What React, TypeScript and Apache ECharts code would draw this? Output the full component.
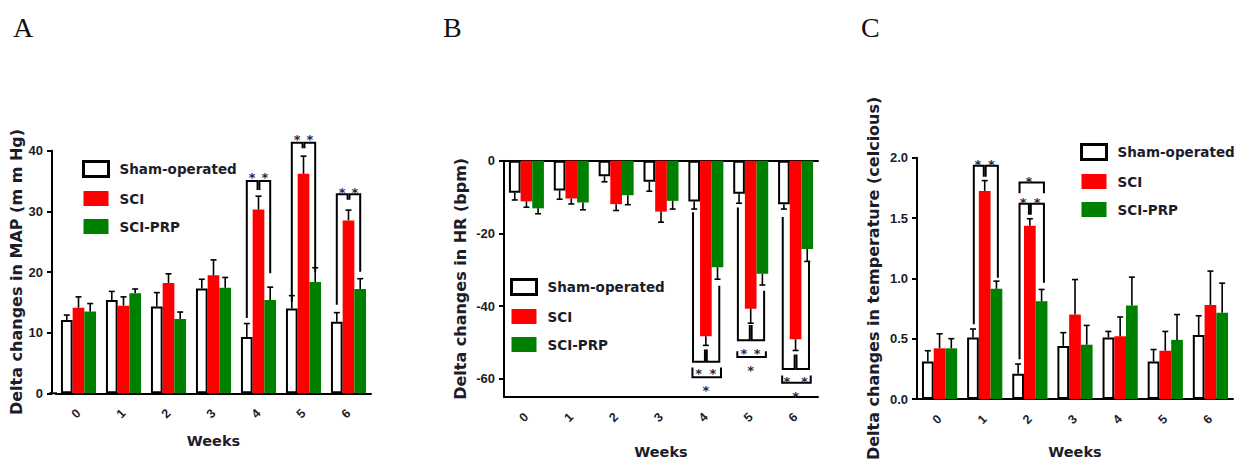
import React, { useEffect, useRef } from "react";
import * as echarts from "echarts";

// ---------- data ----------
const weeks = ["0", "1", "2", "3", "4", "5", "6"];
const seriesNames = ["Sham-operated", "SCI", "SCI-PRP"];

// Panel A: Delta changes in MAP (mmHg)
const mapSham = [12.1, 15.4, 14.3, 17.3, 9.3, 14.0, 11.8];
const mapShamErr = [0.8, 1.4, 2.3, 1.5, 2.2, 2.1, 1.5];
const mapSci = [14.1, 14.45, 18.2, 19.45, 30.3, 36.2, 28.5];
const mapSciErr = [1.8, 1.45, 1.5, 2.55, 2.2, 2.9, 1.7];
const mapPrp = [13.5, 16.5, 12.25, 17.4, 15.4, 18.35, 17.2];
const mapPrpErr = [1.3, 0.7, 1.15, 1.7, 2.1, 2.35, 1.7];

// Panel B: Delta changes in HR (bpm)
const hrSham = [-8.8, -8.2, -4.3, -5.8, -11.2, -9.1, -11.95];
const hrShamErr = [2.0, 2.4, 1.5, 2.6, 2.1, 2.6, 1.35];
const hrSci = [-11.2, -10.4, -11.95, -14.0, -48.3, -40.7, -49.1];
const hrSciErr = [1.6, 1.5, 1.75, 2.9, 2.5, 4.0, 3.1];
const hrPrp = [-13.1, -11.5, -9.5, -11.05, -29.3, -31.1, -24.3];
const hrPrpErr = [1.5, 2.0, 2.6, 2.25, 3.3, 3.1, 3.4];

// Panel C: Delta changes in temperature
const tSham = [0.31, 0.51, 0.21, 0.44, 0.51, 0.31, 0.53];
const tShamErr = [0.09, 0.07, 0.08, 0.11, 0.05, 0.1, 0.16];
const tSci = [0.42, 1.725, 1.436, 0.7, 0.52, 0.4, 0.78];
const tSciErr = [0.12, 0.085, 0.058, 0.29, 0.16, 0.16, 0.28];
const tPrp = [0.42, 0.913, 0.81, 0.45, 0.776, 0.49, 0.715];
const tPrpErr = [0.08, 0.064, 0.098, 0.16, 0.234, 0.21, 0.245];

// tick labels
const mapTicks = [0, 10, 20, 30, 40];
const hrTicks = [0, -20, -40, -60];
const tTicks = [0, 0.5, 1.0, 1.5, 2.0];

// significance brackets: [week, fromOffset, toOffset, lineLevel, fromEnd, toEnd]
const bracketsA = [
  [4, -1, -0.08, 35.0, 12.4, 33.5], [4, 0.08, 1, 35.0, 33.5, 19.8],
  [5, -1, -0.08, 41.3, 15.1, 40.4], [5, 0.08, 1, 41.3, 40.4, 20.05],
  [6, -1, -0.08, 32.8, 14.6, 31.9], [6, 0.08, 1, 32.8, 31.9, 20.05],
];
const starsA = [
  [4, -0.55, 36.0], [4, 0.55, 36.0],
  [5, -0.55, 42.3], [5, 0.55, 42.3],
  [6, -0.55, 33.6], [6, 0.55, 33.6],
];
const bracketsB = [
  [4, -1.1, -0.08, -55.3, -14.2, -51.9], [4, 0.08, 1.15, -55.3, -51.9, -34.4],
  [5, -1.1, -0.08, -49.4, -12.85, -45.2], [5, 0.08, 1.15, -49.4, -45.2, -35.75],
  [6, -1.1, -0.08, -57.3, -15.5, -53.3], [6, 0.08, 1.15, -57.3, -53.3, -27.7],
  [4, -1.15, 1.3, -59.6, -56.9, -56.9],
  [5, -1.15, 1.3, -54.0, -52.4, -52.4],
  [6, -1.15, 1.3, -61.1, -59.1, -59.1],
];
const starsB = [
  [4, -0.62, -57.8], [4, 0.6, -57.8], [4, 0, -62.3],
  [5, -0.59, -52.1], [5, 0.55, -52.1], [5, 0, -57.0],
  [6, -0.75, -59.8], [6, 0.76, -59.8], [6, 0, -64.0],
];
const bracketsC = [
  [1, -0.93, -0.08, 1.934, 0.619, 1.843], [1, 0.08, 1.12, 1.934, 1.843, 1.004],
  [2, -0.88, -0.08, 1.618, 0.33, 1.527], [2, 0.08, 1.2, 1.618, 1.527, 0.963],
  [2, -0.88, 1.2, 1.794, 1.706, 1.706],
];
const starsC = [
  [1, -0.59, 1.967], [1, 0.56, 1.967],
  [2, -0.57, 1.655], [2, 0.63, 1.655],
  [2, -0.08, 1.83],
];

// ---------- styles ----------
const BAR_FRAC = 0.26;
const TXT = "#1c1c2a";
const SANS = "DejaVu Sans";
const ARIAL = "Liberation Sans";
const STAR = "#26264a";

function errRender(_p: any, api: any) {
  const c = api.value(0), v = api.value(1), e = api.value(2), off = api.value(3);
  const p0 = api.coord([c, v]);
  const p1 = api.coord([c, e]);
  const bw = api.size([1, 0])[0] * BAR_FRAC;
  const x = p0[0] + off * bw;
  const st = { stroke: "#000", lineWidth: 1.6 };
  return {
    type: "group",
    children: [
      { type: "line", shape: { x1: x, y1: p0[1], x2: x, y2: p1[1] }, style: st },
      { type: "line", shape: { x1: x - 3, y1: p1[1], x2: x + 3, y2: p1[1] }, style: st },
    ],
  };
}

function bracketRender(_p: any, api: any) {
  const c = api.value(0), xa = api.value(1), xb = api.value(2);
  const yl = api.value(3), ya = api.value(4), yb = api.value(5);
  const base = api.coord([c, yl]);
  const bw = api.size([1, 0])[0] * BAR_FRAC;
  const xA = base[0] + xa * bw;
  const xB = base[0] + xb * bw;
  const pa = api.coord([c, ya])[1];
  const pb = api.coord([c, yb])[1];
  return {
    type: "polyline",
    shape: { points: [[xA, pa], [xA, base[1]], [xB, base[1]], [xB, pb]] },
    style: { stroke: "#000", lineWidth: 2, fill: null },
  };
}

function starRender(_p: any, api: any) {
  const c = api.value(0), xo = api.value(1), y = api.value(2);
  const p = api.coord([c, y]);
  const bw = api.size([1, 0])[0] * BAR_FRAC;
  return {
    type: "text",
    x: p[0] + xo * bw,
    y: p[1] + 3,
    style: {
      text: "*",
      fill: STAR,
      fontSize: 13,
      fontWeight: "bold",
      fontFamily: SANS,
      align: "center",
      verticalAlign: "middle",
    },
  };
}

function errData(vals: number[][], errs: number[][], sign: number) {
  const out: number[][] = [];
  vals.forEach((arr, k) => {
    arr.forEach((v, i) => out.push([i, v, v + sign * errs[k][i], k - 1]));
  });
  return out;
}

function panelSeries(
  xi: number,
  yi: number,
  vals: number[][],
  errs: number[][],
  sign: number,
  brackets: number[][],
  stars: number[][]
) {
  const colors = [
    { color: "#ffffff", borderColor: "#000", borderWidth: 2 },
    { color: "#ff0000" },
    { color: "#008000" },
  ];
  const bars = vals.map((arr, k) => ({
    type: "bar",
    name: seriesNames[k],
    xAxisIndex: xi,
    yAxisIndex: yi,
    data: arr,
    barWidth: BAR_FRAC * 100 + "%",
    barGap: "0%",
    itemStyle: colors[k],
    z: 2,
  }));
  return [
    ...bars,
    {
      type: "custom",
      xAxisIndex: xi,
      yAxisIndex: yi,
      renderItem: errRender,
      data: errData(vals, errs, sign),
      clip: false,
      z: 3,
      silent: true,
    },
    {
      type: "custom",
      xAxisIndex: xi,
      yAxisIndex: yi,
      renderItem: bracketRender,
      encode: { x: 0, y: 3 },
      data: brackets,
      clip: false,
      z: 4,
      silent: true,
    },
    {
      type: "custom",
      xAxisIndex: xi,
      yAxisIndex: yi,
      renderItem: starRender,
      encode: { x: 0, y: 2 },
      data: stars,
      clip: false,
      z: 5,
      silent: true,
    },
  ];
}

const axisLineStyle = { color: "#000", width: 2 };

function xAxisFor(g: number, nameGap: number) {
  return {
    type: "category",
    gridIndex: g,
    data: weeks,
    position: "bottom",
    axisLine: { onZero: false, lineStyle: axisLineStyle },
    axisTick: { alignWithLabel: true, length: 6, lineStyle: axisLineStyle },
    axisLabel: {
      rotate: 45,
      margin: 18,
      fontSize: 12.5,
      fontWeight: "bold",
      fontFamily: ARIAL,
      color: TXT,
    },
    name: "Weeks",
    nameLocation: "middle",
    nameGap,
    nameTextStyle: { fontSize: 14.5, fontWeight: "bold", fontFamily: SANS, color: TXT },
    splitLine: { show: false },
  };
}

const yLabel = { margin: 9, fontSize: 13, fontWeight: "bold", fontFamily: ARIAL, color: TXT };

function yAxisFor(g: number, name: string, nameGap: number, extra: any) {
  return {
    type: "value",
    gridIndex: g,
    splitLine: { show: false },
    axisLine: { show: true, lineStyle: axisLineStyle },
    axisTick: { show: true, length: 5, lineStyle: axisLineStyle },
    axisLabel: yLabel,
    name,
    nameLocation: "middle",
    nameGap,
    nameTextStyle: { fontSize: 16, fontWeight: "bold", fontFamily: SANS, color: TXT },
    ...extra,
  };
}

function legendFor(left: number, top: number) {
  return {
    orient: "vertical",
    left,
    top,
    padding: 0,
    itemWidth: 25,
    itemHeight: 15,
    itemGap: 13,
    icon: "rect",
    selectedMode: false,
    textStyle: {
      fontSize: 13.5,
      fontWeight: "bold",
      fontFamily: SANS,
      color: TXT,
      padding: [0, 0, 0, 6],
    },
    data: [
      { name: seriesNames[0], itemStyle: { color: "#fff", borderColor: "#000", borderWidth: 3 } },
      { name: seriesNames[1] },
      { name: seriesNames[2] },
    ],
  };
}

export default function App() {
  const ref = useRef<HTMLDivElement>(null);
  useEffect(() => {
    if (!ref.current) return;
    const chart = echarts.init(ref.current, null, { renderer: "svg" });
    const option: any = {
      animation: false,
      backgroundColor: "#ffffff",
      grid: [
        { left: 56, top: 150.7, width: 315, height: 242.6 },
        { left: 504, top: 160.7, width: 314, height: 241 },
        { left: 917, top: 157.7, width: 316, height: 242.3 },
      ],
      xAxis: [
        xAxisFor(0, 40),
        xAxisFor(1, 47),
        xAxisFor(2, 45),
        {
          type: "category",
          gridIndex: 1,
          data: weeks,
          position: "top",
          axisLine: { show: true, onZero: false, lineStyle: axisLineStyle },
          axisTick: { show: false },
          axisLabel: { show: false },
          splitLine: { show: false },
        },
      ],
      yAxis: [
        yAxisFor(0, "Delta changes in MAP (m m Hg)", 22, {
          min: 0,
          max: 40,
          interval: 10,
          offset: 4,
          axisLabel: { ...yLabel, customValues: mapTicks },
          axisTick: { show: true, length: 5, lineStyle: axisLineStyle, customValues: mapTicks },
        }),
        yAxisFor(1, "Delta changes in HR (bpm)", 36, {
          min: -65,
          max: 0,
          axisLabel: { ...yLabel, customValues: hrTicks },
          axisTick: { show: true, length: 5, lineStyle: axisLineStyle, customValues: hrTicks },
        }),
        yAxisFor(2, "Delta changes in temperature (celcious)", 36, {
          min: 0,
          max: 2,
          interval: 0.5,
          axisLabel: {
            ...yLabel,
            customValues: tTicks,
            formatter: (v: number) => v.toFixed(1),
          },
          axisTick: { show: true, length: 5, lineStyle: axisLineStyle, customValues: tTicks },
        }),
      ],
      legend: [legendFor(82, 160), legendFor(510, 278), legendFor(1080, 143)],
      graphic: [
        { type: "line", shape: { x1: 49, y1: 393.3, x2: 57, y2: 393.3 }, style: { stroke: "#000", lineWidth: 2 } },
        { type: "text", x: 13, y: 27, style: { text: "A", fontSize: 28, fontFamily: "Liberation Serif", fill: "#111", verticalAlign: "middle" } },
        { type: "text", x: 443, y: 27, style: { text: "B", fontSize: 28, fontFamily: "Liberation Serif", fill: "#111", verticalAlign: "middle" } },
        { type: "text", x: 861, y: 27, style: { text: "C", fontSize: 28, fontFamily: "Liberation Serif", fill: "#111", verticalAlign: "middle" } },
      ],
      series: [
        ...panelSeries(0, 0, [mapSham, mapSci, mapPrp], [mapShamErr, mapSciErr, mapPrpErr], 1, bracketsA, starsA),
        ...panelSeries(1, 1, [hrSham, hrSci, hrPrp], [hrShamErr, hrSciErr, hrPrpErr], -1, bracketsB, starsB),
        ...panelSeries(2, 2, [tSham, tSci, tPrp], [tShamErr, tSciErr, tPrpErr], 1, bracketsC, starsC),
      ],
    };
    chart.setOption(option);
    return () => chart.dispose();
  }, []);
  return (
    <div
      ref={ref}
      style={{ position: "fixed", left: 0, top: 0, width: 1240, height: 464, background: "#fff" }}
    />
  );
}
